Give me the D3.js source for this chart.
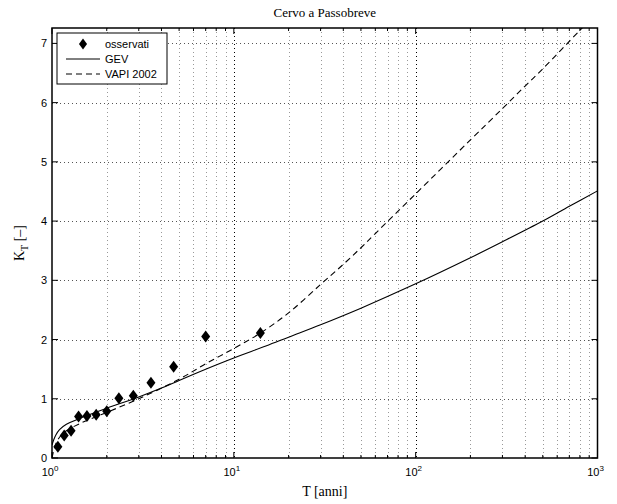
<!DOCTYPE html>
<html>
<head>
<meta charset="utf-8">
<script src="https://cdn.jsdelivr.net/npm/d3@7"></script>
<style>
  body { margin: 0; background: #fff; }
  svg { display: block; }
</style>
</head>
<body>
<div id="chart"></div>
<script>
// observed (Weibull plotting positions, n = 13)
const obsT = [1.077, 1.167, 1.273, 1.4, 1.556, 1.75, 2.0, 2.333, 2.8, 3.5, 4.667, 7.0, 14.0];
const obsK = [0.19, 0.38, 0.46, 0.70, 0.71, 0.73, 0.79, 1.01, 1.05, 1.27, 1.54, 2.05, 2.11];

// GEV growth curve
const gevT = [1.0, 1.02, 1.05, 1.1, 1.2, 1.4, 1.6, 2, 3, 4, 5, 7, 10, 15, 20, 30, 50, 100, 200, 300, 500, 700, 1000];
const gevK = [0.22, 0.30, 0.39, 0.48, 0.57, 0.66, 0.73, 0.84, 1.03, 1.18, 1.31, 1.50, 1.69, 1.89, 2.04, 2.25, 2.53, 2.94, 3.38, 3.65, 4.00, 4.25, 4.51];

// VAPI 2002 growth curve
const vapiT = [1.0, 1.02, 1.05, 1.1, 1.2, 1.4, 1.6, 2, 3, 5, 7, 10, 14, 20, 30, 40, 50, 60, 100, 200, 300, 400, 500, 800, 1000];
const vapiK = [0.0, 0.12, 0.24, 0.35, 0.46, 0.57, 0.65, 0.77, 1.00, 1.33, 1.59, 1.85, 2.11, 2.45, 2.93, 3.27, 3.55, 3.79, 4.46, 5.37, 5.90, 6.28, 6.57, 7.22, 7.52];

const yTicks = [0, 1, 2, 3, 4, 5, 6, 7];
const xDecades = [1, 10, 100, 1000];
const xDecadeExp = ["0", "1", "2", "3"];

const W = 617, H = 504;
const margin = { top: 28, right: 19.5, bottom: 46, left: 52 };
const iw = W - margin.left - margin.right;
const ih = H - margin.top - margin.bottom;

const svg = d3.select("#chart").append("svg")
  .attr("width", W).attr("height", H);

const x = d3.scaleLog().domain([1, 1000]).range([0, iw]);
const y = d3.scaleLinear().domain([0, 7.26]).range([ih, 0]);

const g = svg.append("g")
  .attr("transform", "translate(" + margin.left + "," + margin.top + ")");

svg.append("defs").append("clipPath").attr("id", "clip")
  .append("rect").attr("width", iw).attr("height", ih);

// minor positions on the log axis
var xMinor = [];
xDecades.slice(0, 3).forEach(function (d) {
  for (var k = 2; k <= 9; k++) xMinor.push(d * k);
});

// grid
const grid = g.append("g");
grid.selectAll(".vminor").data(xMinor).enter().append("line")
  .attr("x1", d => Math.round(x(d)) + 0.5).attr("x2", d => Math.round(x(d)) + 0.5)
  .attr("y1", 0).attr("y2", ih)
  .attr("stroke", "#999").attr("stroke-width", 1)
  .attr("stroke-dasharray", "1,3");
grid.selectAll(".vmajor").data(xDecades.slice(1, 3)).enter().append("line")
  .attr("x1", d => Math.round(x(d)) + 0.5).attr("x2", d => Math.round(x(d)) + 0.5)
  .attr("y1", 0).attr("y2", ih)
  .attr("stroke", "#000").attr("stroke-width", 1)
  .attr("stroke-dasharray", "1,3");
grid.selectAll(".hmajor").data(yTicks.slice(1)).enter().append("line")
  .attr("x1", 0).attr("x2", iw)
  .attr("y1", d => Math.round(y(d)) + 0.5).attr("y2", d => Math.round(y(d)) + 0.5)
  .attr("stroke", "#555").attr("stroke-width", 1)
  .attr("stroke-dasharray", "1,3");

// curves
const line = d3.line()
  .x(d => x(d[0]))
  .y(d => y(d[1]))
  .curve(d3.curveCatmullRom.alpha(0.5));

const plot = g.append("g").attr("clip-path", "url(#clip)");
plot.append("path")
  .datum(gevT.map((t, i) => [t, gevK[i]]))
  .attr("d", line)
  .attr("fill", "none").attr("stroke", "#000").attr("stroke-width", 1.1);
plot.append("path")
  .datum(vapiT.map((t, i) => [t, vapiK[i]]))
  .attr("d", line)
  .attr("fill", "none").attr("stroke", "#000").attr("stroke-width", 1.1)
  .attr("stroke-dasharray", "6,4");

const diamond = "M0,-6L4.5,0L0,6L-4.5,0Z";
plot.selectAll(".obs").data(obsT).enter().append("path")
  .attr("d", diamond)
  .attr("transform", (d, i) => "translate(" + x(d) + "," + y(obsK[i]) + ")")
  .attr("fill", "#000");

// frame + inward ticks
g.append("rect").attr("width", iw).attr("height", ih)
  .attr("fill", "none").attr("stroke", "#000").attr("stroke-width", 1.5);

const ticks = g.append("g").attr("stroke", "#000").attr("stroke-width", 1);
xDecades.forEach(function (d) {
  ticks.append("line").attr("x1", x(d)).attr("x2", x(d)).attr("y1", ih).attr("y2", ih - 6);
  ticks.append("line").attr("x1", x(d)).attr("x2", x(d)).attr("y1", 0).attr("y2", 6);
});
xMinor.forEach(function (d) {
  ticks.append("line").attr("x1", x(d)).attr("x2", x(d)).attr("y1", ih).attr("y2", ih - 3);
  ticks.append("line").attr("x1", x(d)).attr("x2", x(d)).attr("y1", 0).attr("y2", 3);
});
yTicks.forEach(function (d) {
  ticks.append("line").attr("x1", 0).attr("x2", 6).attr("y1", y(d)).attr("y2", y(d));
  ticks.append("line").attr("x1", iw).attr("x2", iw - 6).attr("y1", y(d)).attr("y2", y(d));
});

// tick labels
const tickFont = "Liberation Sans, Arial, sans-serif";
g.selectAll(".ylab").data(yTicks).enter().append("text")
  .attr("x", -5).attr("y", d => y(d) + 4)
  .attr("text-anchor", "end")
  .attr("font-family", tickFont).attr("font-size", 11)
  .text(d => d);

xDecades.forEach(function (d, i) {
  const t = g.append("text")
    .attr("x", x(d) - 2).attr("y", ih + 18)
    .attr("text-anchor", "middle")
    .attr("font-family", tickFont).attr("font-size", 11);
  t.append("tspan").text("10");
  t.append("tspan").attr("dy", -5).attr("font-size", 8).text(xDecadeExp[i]);
});

// title and axis labels
const serif = "Liberation Serif, Times New Roman, serif";
svg.append("text")
  .attr("x", margin.left + iw / 2).attr("y", 17)
  .attr("text-anchor", "middle")
  .attr("font-family", serif).attr("font-size", 13)
  .text("Cervo a Passobreve");

svg.append("text")
  .attr("x", margin.left + iw / 2).attr("y", 496)
  .attr("text-anchor", "middle")
  .attr("font-family", serif).attr("font-size", 14)
  .text("T [anni]");

const yl = svg.append("text")
  .attr("transform", "translate(24," + (margin.top + ih / 2) + ") rotate(-90)")
  .attr("text-anchor", "middle")
  .attr("font-family", serif).attr("font-size", 14);
yl.append("tspan").text("K");
yl.append("tspan").attr("dy", 4).attr("font-size", 10).text("T");
yl.append("tspan").attr("dy", -4).text(" [\u2013]");

// legend
const leg = g.append("g").attr("transform", "translate(5,5)");
leg.append("rect").attr("width", 110).attr("height", 51)
  .attr("fill", "#fff").attr("stroke", "#000").attr("stroke-width", 1);
const legFont = "Liberation Sans, Arial, sans-serif";
const legItems = ["osservati", "GEV", "VAPI 2002"];
legItems.forEach(function (name, i) {
  const yy = 11 + i * 15;
  if (i === 0) {
    leg.append("path").attr("d", diamond)
      .attr("transform", "translate(26," + yy + ") scale(0.9)")
      .attr("fill", "#000");
  } else {
    leg.append("line").attr("x1", 9).attr("x2", 43).attr("y1", yy).attr("y2", yy)
      .attr("stroke", "#000").attr("stroke-width", 1)
      .attr("stroke-dasharray", i === 2 ? "6,4" : null);
  }
  leg.append("text").attr("x", 48).attr("y", yy + 4)
    .attr("font-family", legFont).attr("font-size", 11)
    .text(name);
});
</script>
</body>
</html>
